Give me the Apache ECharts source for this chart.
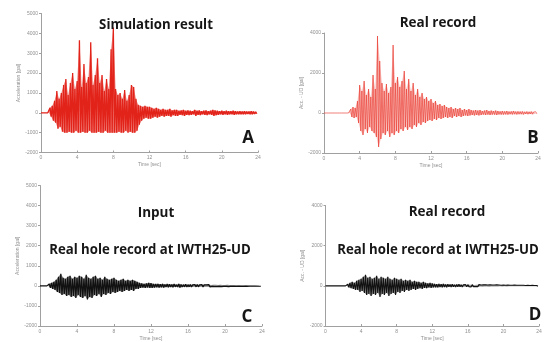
<!DOCTYPE html>
<html>
<head>
<meta charset="utf-8">
<title>Acceleration records</title>
<script src="https://cdn.jsdelivr.net/npm/echarts@6/dist/echarts.min.js"></script>
</head>
<body style="margin:0;background:#fff">
<div id="main" style="width:545px;height:342px;"></div>
<script type="text/javascript">
// bins of 0.25 s, one positive peak and one negative trough per bin
var step = 0.25;

// A - simulation result
var simHi = [
  0, 0, 0, 0,  250, 350, 600, 1100,  700, 1000, 1400, 1700,  900, 1500, 2000, 1200,
  1600, 3650, 1300, 2450,  1500, 1800, 3550, 1400,  1900, 2750, 1500, 1900,  1100, 1700, 1200, 3200,
  4300, 1200, 900, 1000,  700, 1150, 600, 900,  1400, 1300, 700, 400,  350, 300, 350, 300,
  300, 250, 200, 250,  200, 150, 200, 150,  150, 200, 120, 150,  150, 100, 120, 150,
  100, 120, 100, 80,  150, 100, 120, 80,  100, 120, 80, 100,  150, 120, 100, 80,
  100, 80, 100, 80,  80, 100, 80, 70,  80, 70, 80, 60,  70, 80, 60, 50
];
var simLo = [
  0, 0, 0, 0,  -200, -400, -500, -800,  -700, -950, -1000, -1000,  -950, -1000, -1000, -900,
  -1000, -1000, -950, -1000,  -1000, -900, -1000, -1000,  -1000, -950, -1000, -1000,  -900, -1000, -1000, -1000,
  -1000, -1000, -950, -1000,  -1000, -900, -1000, -950,  -1000, -1000, -900, -600,  -400, -300, -250, -300,
  -300, -250, -200, -250,  -200, -150, -200, -150,  -150, -200, -120, -150,  -150, -100, -120, -150,
  -100, -120, -100, -80,  -150, -100, -120, -80,  -100, -120, -80, -100,  -150, -120, -100, -80,
  -100, -80, -100, -80,  -80, -100, -80, -70,  -80, -70, -80, -60,  -70, -80, -60, -50
];

// B - real record
var recHi = [
  0, 0, 0, 0,  0, 0, 0, 0,  0, 0, 0, 0,  200, 300, 250, 600,
  1400, 1100, 1600, 900,  1200, 800, 1900, 1200,  3850, 2600, 1500, 1100,  1450, 1000, 1300, 3400,
  1500, 1800, 1300, 1600,  2100, 1200, 1700, 1100,  1500, 900, 1200, 800,  1000, 700, 800, 600,
  700, 500, 600, 400,  450, 350, 400, 300,  250, 300, 200, 250,  200, 250, 150, 200,
  150, 200, 150, 120,  150, 120, 150, 100,  120, 150, 100, 120,  100, 120, 100, 80,
  100, 80, 100, 70,  80, 100, 70, 80,  70, 80, 60, 70,  60, 70, 50, 60
];
var recLo = [
  0, 0, 0, 0,  0, 0, 0, 0,  0, 0, 0, 0,  -200, -250, -200, -500,
  -900, -1100, -800, -1000,  -700, -900, -1000, -1200,  -1700, -1300, -1000, -1100,  -900, -1200, -1000, -1100,
  -900, -1000, -800, -900,  -700, -850, -700, -800,  -600, -700, -500, -600,  -450, -500, -400, -350,
  -400, -300, -350, -250,  -300, -250, -200, -250,  -200, -250, -150, -200,  -150, -200, -150, -120,
  -150, -120, -100, -120,  -100, -120, -100, -80,  -100, -80, -100, -80,  -80, -100, -70, -80,
  -80, -70, -80, -60,  -70, -60, -70, -60,  -60, -70, -50, -60,  -50, -60, -50, -40
];

// C - input, hole record
var inHi = [
  0, 0, 0, 0,  100, 150, 200, 300,  450, 600, 400, 350,  450, 500, 350, 450,
  400, 500, 450, 350,  550, 400, 350, 450,  500, 350, 400, 300,  450, 350, 300, 350,
  400, 300, 250, 300,  350, 250, 300, 250,  300, 250, 200, 150,  120, 100, 120, 150,
  130, 100, 90, 100,  80, 100, 70, 90,  80, 70, 90, 60,  100, 70, 60, 80,
  60, 70, 50, 60,  70, 50, 60, 50,  50, 60, 40, 50,  50, 40, 50, 40,
  40, 50, 40, 40,  40, 30, 40, 30,  30, 40, 30, 30,  30, 30, 20, 20
];
var inLo = [
  0, 0, 0, 0,  -100, -150, -200, -300,  -350, -450, -400, -500,  -450, -550, -500, -600,
  -450, -550, -600, -500,  -680, -550, -600, -450,  -500, -400, -550, -400,  -450, -350, -400, -300,
  -350, -300, -250, -300,  -250, -200, -250, -200,  -250, -150, -150, -100,  -80, -100, -80, -100,
  -100, -80, -70, -80,  -70, -80, -60, -70,  -60, -70, -50, -60,  -80, -60, -50, -60,
  -50, -60, -40, -50,  -50, -40, -50, -40,  -40, -50, -30, -40,  -40, -30, -40, -30,
  -30, -40, -30, -30,  -30, -30, -20, -30,  -20, -30, -20, -20,  -20, -20, -20, -20
];

// D - real record, hole
var holeHi = [
  0, 0, 0, 0,  0, 0, 0, 0,  0, 0, 80, 150,  200, 150, 250, 300,
  350, 450, 550, 400,  450, 350, 400, 500,  350, 450, 400, 350,  450, 350, 300, 400,
  350, 300, 350, 250,  300, 250, 300, 200,  250, 200, 200, 150,  200, 150, 120, 150,
  120, 100, 80, 100,  80, 100, 70, 80,  70, 80, 60, 70,  80, 60, 50, 60,
  60, 50, 60, 40,  50, 60, 40, 50,  50, 40, 50, 40,  40, 50, 40, 30,
  40, 30, 40, 30,  30, 40, 30, 30,  30, 30, 20, 30,  20, 30, 20, 20
];
var holeLo = [
  0, 0, 0, 0,  0, 0, 0, 0,  0, 0, -80, -120,  -150, -200, -200, -300,
  -250, -350, -450, -400,  -500, -400, -450, -350,  -550, -400, -450, -350,  -500, -400, -350, -450,
  -300, -350, -250, -300,  -200, -250, -200, -150,  -200, -150, -120, -150,  -100, -120, -80, -100,
  -80, -70, -80, -60,  -70, -60, -70, -50,  -60, -50, -60, -50,  -50, -60, -40, -50,
  -40, -50, -40, -40,  -40, -30, -40, -30,  -30, -40, -30, -30,  -30, -30, -20, -30,
  -20, -30, -20, -20,  -20, -20, -20, -20,  -20, -20, -20, -20,  -20, -20, -20, -20
];

function trace(hi, lo) {
    var d = [];
    for (var i = 0; i < hi.length; i++) {
        d.push([i * step, hi[i]]);
        d.push([i * step + step / 2, lo[i]]);
    }
    return d;
}

function edge(vals, shift) {
    return vals.map(function (v, i) { return [i * step + shift, v]; });
}

var axisGray = '#a0a0a0';
var labelStyle = {
    fontSize: 5, color: '#909090', margin: 3,
    formatter: function (v) { return String(v); }
};

function xAxis(grid) {
    return {
        gridIndex: grid, type: 'value', min: 0, max: 24, interval: 4,
        name: 'Time [sec]', nameLocation: 'middle', nameGap: 10,
        nameTextStyle: {fontSize: 5, color: '#909090'},
        axisLine: {onZero: false, lineStyle: {color: axisGray, width: 1}},
        axisTick: {inside: true, length: 2, lineStyle: {color: axisGray}},
        axisLabel: labelStyle,
        splitLine: {show: false}
    };
}

function yAxis(grid, min, max, interval, name) {
    return {
        gridIndex: grid, type: 'value', min: min, max: max, interval: interval,
        name: name, nameLocation: 'middle', nameGap: 20,
        nameTextStyle: {fontSize: 5, color: '#909090'},
        axisLine: {show: true, lineStyle: {color: axisGray, width: 1}},
        axisTick: {show: true, length: 2, lineStyle: {color: axisGray}},
        axisLabel: labelStyle,
        splitLine: {show: false}
    };
}

function wave(idx, data, color, width, opacity) {
    return {
        type: 'line', xAxisIndex: idx, yAxisIndex: idx, data: data,
        symbol: 'none', animation: false, z: 3,
        lineStyle: {color: color, width: width, opacity: opacity}
    };
}

// envelope fill (peaks / troughs to zero) under the trace
function band(idx, data, color, opacity) {
    return {
        type: 'line', xAxisIndex: idx, yAxisIndex: idx, data: data,
        symbol: 'none', animation: false, z: 2,
        lineStyle: {width: 0},
        areaStyle: {color: color, opacity: opacity}
    };
}

function label(text, x, y, size, sx) {
    return {
        type: 'text', x: x, y: y, scaleX: sx || 1, z: 100,
        style: {
            text: text, fill: '#161616',
            font: 'bold ' + size + 'px "Open Sans"',
            textAlign: 'center', textVerticalAlign: 'middle',
            align: 'center', verticalAlign: 'middle'
        }
    };
}

var myChart = echarts.init(document.getElementById('main'));

var red = '#e2231a', pink = '#ea4036', ink = '#111';

option = {
    backgroundColor: '#fff',
    animation: false,
    grid: [
        {left: 41, top: 13.5, width: 217, height: 139},
        {left: 324, top: 33, width: 214, height: 120},
        {left: 40, top: 185.5, width: 222, height: 142},
        {left: 325.5, top: 205.5, width: 213.5, height: 122}
    ],
    xAxis: [xAxis(0), xAxis(1), xAxis(2), xAxis(3)],
    yAxis: [
        yAxis(0, -2000, 5000, 1000, 'Acceleration [gal]'),
        yAxis(1, -2000, 4000, 2000, 'Acc. - UD [gal]'),
        yAxis(2, -2000, 5000, 1000, 'Acceleration [gal]'),
        yAxis(3, -2000, 4000, 2000, 'Acc. - UD [gal]')
    ],
    series: [
        band(0, edge(simHi, 0), red, 0.55),
        band(0, edge(simLo, step / 2), red, 0.55),
        wave(0, trace(simHi, simLo), red, 1.3, 1),
        band(1, edge(recHi, 0), pink, 0.3),
        band(1, edge(recLo, step / 2), pink, 0.3),
        wave(1, trace(recHi, recLo), pink, 0.8, 0.85),
        band(2, edge(inHi, 0), ink, 0.55),
        band(2, edge(inLo, step / 2), ink, 0.55),
        wave(2, trace(inHi, inLo), ink, 1.2, 1),
        band(3, edge(holeHi, 0), ink, 0.45),
        band(3, edge(holeLo, step / 2), ink, 0.45),
        wave(3, trace(holeHi, holeLo), ink, 1.1, 1)
    ],
    graphic: [
        label('Simulation result', 156, 25, 15, 0.88),
        label('Real record', 438, 23, 15, 0.9),
        label('Input', 156, 213, 15, 0.9),
        label('Real hole record at IWTH25-UD', 150, 250, 15, 0.88),
        label('Real record', 447, 212, 15, 0.9),
        label('Real hole record at IWTH25-UD', 438, 250, 15, 0.88),
        label('A', 248, 138, 17, 1),
        label('B', 533, 138, 17, 1),
        label('C', 247, 317, 17, 1),
        label('D', 535, 315, 17, 1)
    ]
};

myChart.setOption(option);
</script>
</body>
</html>
